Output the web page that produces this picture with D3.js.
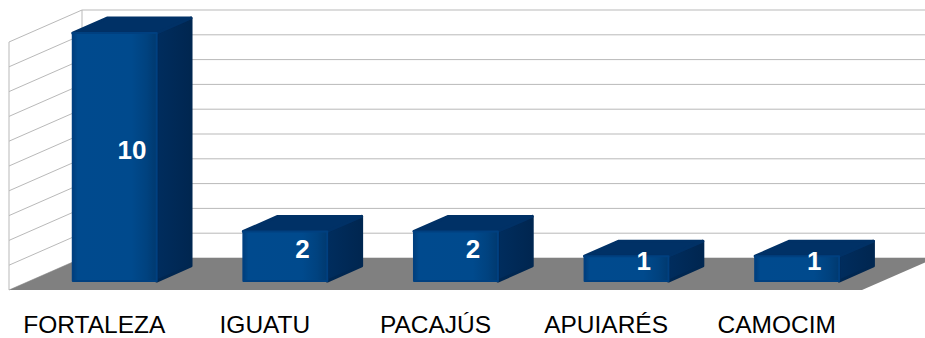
<!DOCTYPE html>
<html>
<head>
<meta charset="utf-8">
<script src="https://cdn.jsdelivr.net/npm/d3@7"></script>
<style>
  html, body { margin: 0; padding: 0; background: #ffffff; }
  svg { display: block; }
</style>
</head>
<body>
<svg id="chart" width="925" height="338"></svg>
<script>
// Chart data
const categories = ["FORTALEZA", "IGUATU", "PACAJÚS", "APUIARÉS", "CAMOCIM"];
const values = [10, 2, 2, 1, 1];
const gridTicks = [0, 1, 2, 3, 4, 5, 6, 7, 8, 9, 10];

const svg = d3.select("#chart");

// Oblique 3D projection: front plane plus a depth offset
const DEPTH_DX = 73, DEPTH_DY = -32;
const x = d3.scaleBand().domain(categories).range([9, 862])
  .paddingInner(0.508).paddingOuter(0.254);
const y = d3.scaleLinear().domain([0, 10]).range([290, 42]);
const P = (px, v, d) => [px + d * DEPTH_DX, y(v) + d * DEPTH_DY];

const x0 = x.range()[0], x1 = x.range()[1];
const gridColor = "#b9b9b9";

// Back wall gridlines
svg.append("g").selectAll("line").data(gridTicks).join("line")
  .attr("x1", P(x0, 0, 1)[0]).attr("x2", P(x1, 0, 1)[0])
  .attr("y1", d => P(x0, d, 1)[1]).attr("y2", d => P(x0, d, 1)[1])
  .attr("stroke", gridColor).attr("stroke-width", 1);

// Left wall gridlines
svg.append("g").selectAll("line").data(gridTicks).join("line")
  .attr("x1", d => P(x0, d, 0)[0]).attr("y1", d => P(x0, d, 0)[1])
  .attr("x2", d => P(x0, d, 1)[0]).attr("y2", d => P(x0, d, 1)[1])
  .attr("stroke", gridColor).attr("stroke-width", 1);

// Wall edges
const edges = [
  [P(x0, 0, 0), P(x0, 10, 0)],
  [P(x0, 0, 1), P(x0, 10, 1)]
];
svg.append("g").selectAll("line").data(edges).join("line")
  .attr("x1", d => d[0][0]).attr("y1", d => d[0][1])
  .attr("x2", d => d[1][0]).attr("y2", d => d[1][1])
  .attr("stroke", gridColor).attr("stroke-width", 1);

// Floor
const floorPts = [P(x0, 0, 0), P(x1, 0, 0), P(x1, 0, 1), P(x0, 0, 1)];
svg.append("polygon")
  .attr("points", floorPts.map(p => p.join(",")).join(" "))
  .attr("fill", "#808080");

// Gradients for bar faces
const defs = svg.append("defs");
const gFront = defs.append("linearGradient").attr("id", "front")
  .attr("x1", "0").attr("x2", "1").attr("y1", "0").attr("y2", "0");
[[0, "#003f7c"], [0.06, "#004a8e"], [0.7, "#004a8d"], [0.88, "#00427f"], [1, "#00396f"]]
  .forEach(([o, c]) => gFront.append("stop").attr("offset", o).attr("stop-color", c));
const gSide = defs.append("linearGradient").attr("id", "side")
  .attr("x1", "0").attr("x2", "1").attr("y1", "0").attr("y2", "0");
[[0, "#002d5e"], [1, "#002650"]]
  .forEach(([o, c]) => gSide.append("stop").attr("offset", o).attr("stop-color", c));

// Bars as boxes between two depth fractions
const D0 = 0.28, D1 = 0.75;
const poly = pts => "M" + pts.map(p => p.join(",")).join("L") + "Z";

const bars = svg.append("g").selectAll("g").data(categories.map((c, i) => ({ c, v: values[i] })))
  .join("g");

bars.each(function (d) {
  const g = d3.select(this);
  const l = x(d.c), r = x(d.c) + x.bandwidth();
  const side = [P(r, 0, D0), P(r, d.v, D0), P(r, d.v, D1), P(r, 0, D1)];
  const top = [P(l, d.v, D0), P(r, d.v, D0), P(r, d.v, D1), P(l, d.v, D1)];
  const front = [P(l, 0, D0), P(r, 0, D0), P(r, d.v, D0), P(l, d.v, D0)];
  g.append("path").attr("d", poly(side)).attr("fill", "url(#side)")
    .attr("stroke", "#002751").attr("stroke-width", 3).attr("stroke-linejoin", "round");
  g.append("path").attr("d", poly(top)).attr("fill", "#003166")
    .attr("stroke", "#003166").attr("stroke-width", 3).attr("stroke-linejoin", "round");
  g.append("path").attr("d", poly(front)).attr("fill", "url(#front)")
    .attr("stroke", "#004080").attr("stroke-width", 2).attr("stroke-linejoin", "round");

  // Value label at the centre of the box
  const cx = (l + r) / 2 + ((D0 + D1) / 2) * DEPTH_DX;
  const cy = (y(0) + y(d.v)) / 2 + ((D0 + D1) / 2) * DEPTH_DY;
  g.append("text")
    .attr("x", cx).attr("y", cy)
    .attr("text-anchor", "middle").attr("dominant-baseline", "central")
    .attr("font-family", "'Liberation Sans', Arial, sans-serif")
    .attr("font-weight", "bold").attr("font-size", 26)
    .attr("fill", "#ffffff")
    .text(d.v);
});

// Category labels
svg.append("g").selectAll("text").data(categories).join("text")
  .attr("x", d => x(d) + x.bandwidth() / 2)
  .attr("y", 333)
  .attr("text-anchor", "middle")
  .attr("font-family", "'Liberation Sans', Arial, sans-serif")
  .attr("font-size", 24.5)
  .attr("fill", "#000000")
  .text(d => d);
</script>
</body>
</html>
